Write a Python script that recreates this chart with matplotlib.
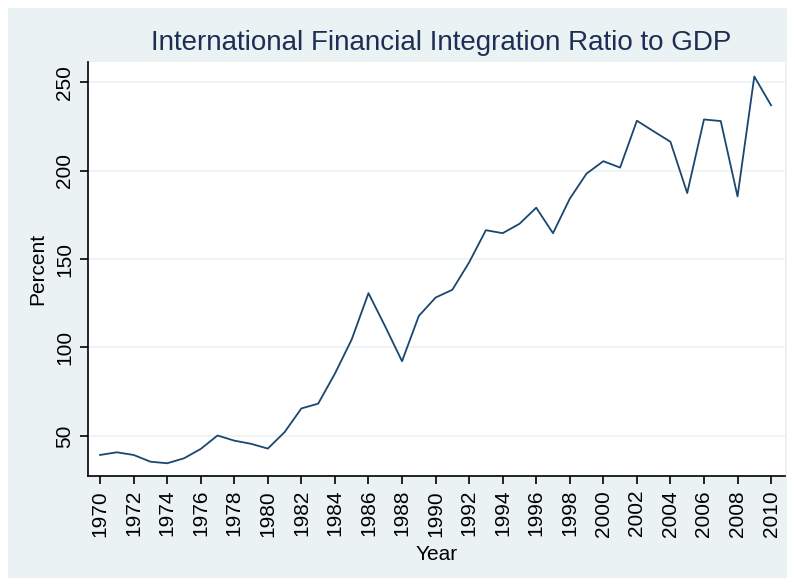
import matplotlib
matplotlib.use("Agg")
import matplotlib.pyplot as plt

years = list(range(1970, 2011))
percent = [
    39.2, 40.7, 39.2, 35.4, 34.5, 37.3, 42.6, 50.2, 47.3, 45.5,
    42.8, 52.1, 65.5, 68.2, 85.2, 104.5, 130.7, 111.8, 92.2, 117.8,
    128.2, 132.6, 148.1, 166.3, 164.6, 169.9, 179.0, 164.6, 184.1, 198.3,
    205.3, 201.7, 228.2, 222.2, 216.3, 187.3, 228.9, 228.0, 185.4, 253.2,
    236.9,
]
y_ticks = [50, 100, 150, 200, 250]
x_ticks = list(range(1970, 2011, 2))

plt.rcParams["font.family"] = ["Liberation Sans", "DejaVu Sans"]

bg = "#EAF2F3"
navy = "#1A476F"

fig = plt.figure(figsize=(7.95, 5.86), dpi=100)
fig.patch.set_facecolor("white")
# Stata-style graph region, inset from the white border
fig.patches.append(plt.Rectangle((8 / 795, 8 / 586), 779 / 795, 570 / 586,
                                 transform=fig.transFigure, facecolor=bg,
                                 edgecolor="none", zorder=-10))

ax = fig.add_axes([88 / 795, 1 - 476 / 586, 697 / 795, 414 / 586])
ax.set_zorder(1)
ax.set_facecolor("white")
ax.plot(years, percent, color=navy, lw=1.3)

ax.set_xlim(1969.28, 2010.83)
ax.set_ylim(27.3, 261.4)
ax.set_yticks(y_ticks)
ax.set_xticks(x_ticks)
ax.grid(axis="y", color=bg, lw=1.2)
ax.set_axisbelow(True)

for side in ["top", "right"]:
    ax.spines[side].set_visible(False)
for side in ["left", "bottom"]:
    ax.spines[side].set_linewidth(1.2)
ax.tick_params(direction="out", length=6, width=1.2, labelsize=15, pad=4)
plt.setp(ax.get_xticklabels(), rotation=90)
plt.setp(ax.get_yticklabels(), rotation=90, va="center")

ax.set_xlabel("Year", fontsize=15, labelpad=6)
ax.set_ylabel("Percent", fontsize=15, labelpad=6)
fig.text(441 / 795, 1 - 43 / 586, "International Financial Integration Ratio to GDP",
         ha="center", va="center", fontsize=20, color="#1E2F55")

fig.savefig("out.png", dpi=100, facecolor=fig.get_facecolor())
